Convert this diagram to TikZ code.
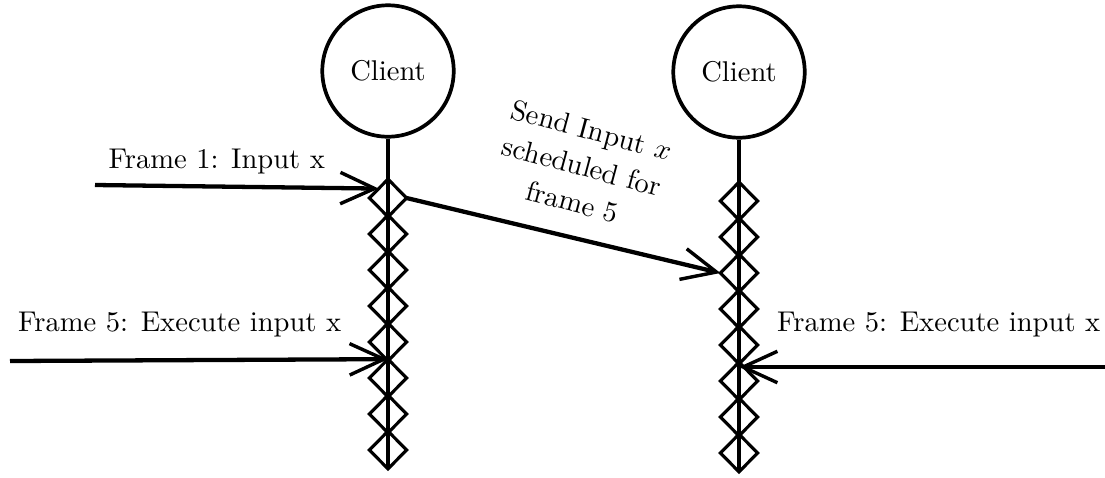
\documentclass[tikz,border=0pt]{standalone}
\usepackage{amsmath}
\usetikzlibrary{positioning, shapes.geometric, arrows.meta, calc}

\begin{document}
\begin{tikzpicture}[
  x=0.35pt, y=-0.35pt,
  font=\fontsize{10}{11.5}\selectfont,
  client/.style={
    draw,
    circle,
    line width=1.3pt,
    minimum size=46pt,
    inner sep=0pt
  },
  frametick/.style={
    draw,
    diamond,
    line width=1.1pt,
    minimum width=13pt,
    minimum height=13.2pt,
    inner sep=0pt,
    outer sep=0pt
  },
  lifeline/.style={line width=1.4pt},
  msg/.style={
    line width=1.5pt,
    -{Straight Barb[length=12pt, width=11pt, line width=1.2pt]}
  }
]
  \useasboundingbox (0,0) rectangle (1105,477);

  % --- The two clients ---
  \node[client] (cl) at (388,71) {Client};
  \node[client] (cr) at (739,72) {Client};

  % --- Frame ticks down each lifeline ---
  \foreach \i in {1,...,8} {
    \node[frametick] (dl\i) at (388,{162+36*\i}) {};
    \node[frametick] (dr\i) at (739,{165+36*\i}) {};
  }
  \draw[lifeline] (cl.south) -- (dl8.south);
  \draw[lifeline] (cr.south) -- (dr8.south);

  % --- Local input on the left client ---
  \coordinate (in1) at (95,185);
  \draw[msg] (in1) -- (dl1.north west);
  \node[anchor=east] (lin1) at (335,162) {Frame 1: Input x};

  \coordinate (in5) at (10,361);
  \draw[msg] (in5) -- (dl6.north);
  \node[anchor=west] (lin5) at (8,325) {Frame 5: Execute input x};

  % --- Message sent across to the right client ---
  \draw[msg] (dl1.east) -- (dr3.west);
  \node[rotate=-15, align=center] (lsend) at (582,166)
       {Send Input $x$\\[1.5pt]scheduled for\\[1.5pt]frame 5};

  % --- Execution on the right client ---
  \coordinate (rin5) at (1105,367);
  \draw[msg] (rin5) -- (rin5 -| dr6.center);
  \node[anchor=west] (rlin5) at (767,325) {Frame 5: Execute input x};

\end{tikzpicture}
\end{document}
